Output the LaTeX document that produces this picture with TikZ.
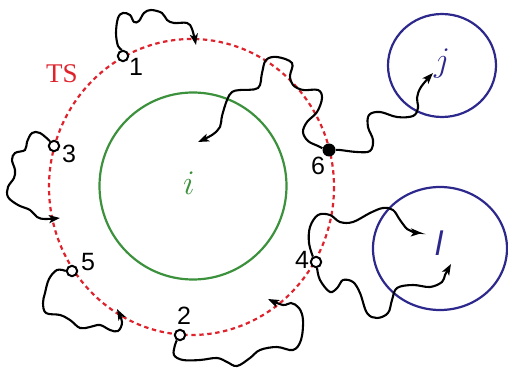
\documentclass[tikz,border=0pt]{standalone}
\usepackage{amsmath}
\usepackage{amssymb}
\usepackage{fontspec}
\setmainfont{Liberation Serif}
\newfontfamily\digitfont{Liberation Sans}
\usepackage{tikz}
\usetikzlibrary{arrows.meta}
\usepackage{xcolor}
\definecolor{tsred}{RGB}{222,35,45}
\definecolor{igreen}{RGB}{60,145,60}
\definecolor{jblue}{RGB}{45,40,140}

\begin{document}
\begin{tikzpicture}[x=0.5pt,y=-0.5pt,
  site/.style={circle,draw,fill=white,line width=1pt,inner sep=0pt,minimum size=5.2pt},
  hit/.style={circle,fill=black,inner sep=0pt,minimum size=6.5pt},
  num/.style={inner sep=0pt,font=\digitfont\fontsize{12.5}{14}\selectfont},
  walk/.style={line width=1.05pt,-{Stealth[length=5.5pt,width=4pt,inset=1.3pt]}}]
\useasboundingbox (0,0) rectangle (508,368);

% regions
\draw [tsred, line width=1.1pt, dash pattern=on 2.2pt off 1.8pt] (191.5,187) ellipse (142.5 and 148);
\draw [igreen, line width=1.1pt] (193,186) circle (93.5);
\draw [jblue, line width=1.1pt] (442,65.5) ellipse (54 and 51.5);
\draw [jblue, line width=1.1pt] (440,248.5) ellipse (67 and 61.5);
\node [tsred, font=\fontsize{13.5}{15}\selectfont] (ts) at (62,74) {TS};
\node [igreen, font=\fontsize{16}{18}\selectfont] (ri) at (189,183) {$i$};
\node [jblue, font=\fontsize{16}{18}\selectfont] (rj) at (442,64) {$j$};
\node [jblue, font=\digitfont\itshape\fontsize{17}{19}\selectfont] (rl) at (439,243) {l};

% sites on TS
\node [site] (p1) at (123,56) {};\node [num] (n1) at (136,67) {1};
\node [site] (p2) at (180,335) {};\node [num] (n2) at (184,316) {2};
\node [site] (p3) at (54,146) {};\node [num] (n3) at (69,154) {3};
\node [site] (p4) at (316,262) {};\node [num] (n4) at (302,260) {4};
\node [site] (p5) at (72,271) {};\node [num] (n5) at (88,262) {5};
\node [hit] (p6) at (329,150) {};\node [num] (n6) at (318,166) {6};

\coordinate (a1) at (196,45);
\coordinate (a2) at (198,142);
\coordinate (a3) at (433,73);
\coordinate (a4) at (60,218);
\coordinate (a5) at (117,309);
\coordinate (a6) at (268,299);
\coordinate (a7) at (422,233);
\coordinate (a8) at (451,264);

% trajectories
\draw [walk] plot [smooth, tension=0.6] coordinates {(p1.100) (118,46) (116,33) (118,18) (123,13) (130,15) (134,22) (139,21) (144,13) (151,10) (162,13) (167,20) (174,23) (187,23) (192,29) (a1)};
\draw [walk] plot [smooth, tension=0.6] coordinates {(p6.165) (318,146) (308,141) (303,132) (307,122) (317,112) (322,98) (318,90) (303,90) (293,85) (290,76) (292,63) (277,57) (266,60) (262,73) (258,88) (240,90) (232,92) (227,100) (222,116) (220,127) (212,135) (a2)};
\draw [walk] plot [smooth, tension=0.6] coordinates {(p6.east) (340,150) (357,152) (370,151) (373,140) (368,127) (369,115) (380,112) (397,117) (413,116) (418,108) (417,98) (421,87) (a3)};
\draw [walk] plot [smooth, tension=0.6] coordinates {(p3.130) (40,133) (32,133) (27,142) (25,150) (15,153) (12,160) (15,170) (14,178) (8,187) (8,197) (18,205) (30,210) (37,217) (45,219) (a4)};
\draw [walk] plot [smooth, tension=0.6] coordinates {(p5.west) (57,270) (49,279) (45,293) (43,303) (46,313) (60,315) (70,320) (80,328) (90,327) (100,325) (110,330) (118,331) (122,322) (a5)};
\draw [walk] plot [smooth, tension=0.6] coordinates {(p2.240) (175,345) (174,355) (183,360) (200,360) (217,358) (227,362) (237,366) (250,358) (260,350) (277,347) (293,350) (301,340) (303,320) (299,308) (291,303) (283,305) (a6)};
\draw [walk] plot [smooth, tension=0.6] coordinates {(p4.120) (309,243) (310,227) (318,215) (330,215) (340,222) (353,222) (370,213) (383,208) (393,210) (400,220) (407,229) (413,232) (a7)};
\draw [walk] plot [smooth, tension=0.6] coordinates {(p4.280) (320,280) (330,292) (338,287) (343,280) (353,282) (360,293) (367,313) (377,318) (388,313) (392,300) (397,288) (413,285) (430,287) (442,282) (445,275) (a8)};

\end{tikzpicture}
\end{document}
